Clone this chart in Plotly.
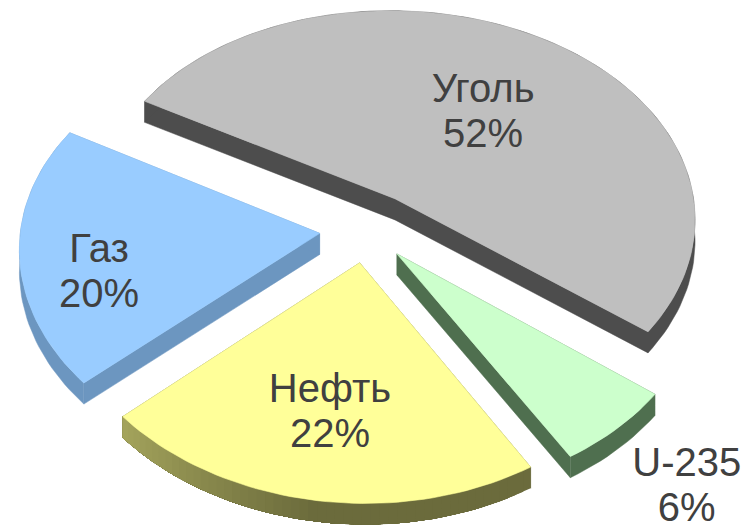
import numpy as np
import plotly.graph_objects as go

labels = ["Уголь", "U-235", "Нефть", "Газ"]
values = [52, 6, 22, 20]
percent_text = ["52%", "6%", "22%", "20%"]
top_colors = ["#bfbfbf", "#ccffcc", "#ffff99", "#99ccff"]
side_colors = ["#4d4d4d", "#4f6f4f", "#6b6b3c", "#6c96c0"]

START = -57.0          # degrees clockwise from the back of the pie
EXPLODE = [0.18, 0.15, 0.155, 0.155]
LABEL_R = [0.53, 1.30, 0.66, 0.75]
LABEL_TURN = [3, 0.4, 0, -9]
K = 0.095              # perspective strength, vertical
KX = 0.08              # perspective strength, horizontal
SHEAR = 0.065          # slight camera yaw
TILT = 0.05            # slight camera roll
DEPTH = 0.10           # slab thickness, in y-axis units
W, H = 743, 525
PX_X, PX_Y = 300.0, 211.0
CX, CY = 366.0, 230.0


def project(X, Y, z=0.0):
    X = np.asarray(X, dtype=float)
    Y = np.asarray(Y, dtype=float)
    return X / (1.0 + KX * Y) - SHEAR * Y, Y / (1.0 + K * Y) + TILT * X + z


def shade(hex_color, f):
    r, g, b = (int(hex_color[i:i + 2], 16) for i in (1, 3, 5))
    return f"rgb({min(255, int(r * f))},{min(255, int(g * f))},{min(255, int(b * f))})"


fig = go.Figure()


def poly(x, y, color, lw=0.0):
    fig.add_trace(go.Scatter(x=list(x), y=list(y), mode="lines", fill="toself",
                             fillcolor=color, line=dict(color=color, width=lw),
                             hoverinfo="skip", showlegend=False))


angle = START
text_x, text_y, pct_x, pct_y = [], [], [], []
for i, v in enumerate(values):
    span = v / sum(values) * 360
    a0, a1 = angle, angle + span
    mid = np.radians((a0 + a1) / 2)
    ax, ay = EXPLODE[i] * np.sin(mid), EXPLODE[i] * np.cos(mid)
    deg = np.linspace(a0, a1, max(8, int(span / 1.5)))
    th = np.radians(deg)
    wx = np.r_[ax, ax + np.sin(th)]
    wy = np.r_[ay, ay + np.cos(th)]
    tx, ty = project(wx, wy)
    bx, by = project(wx, wy, -DEPTH)
    for (p, q) in [(0, 1), (len(wx) - 1, 0)]:
        poly([tx[p], tx[q], bx[q], bx[p]], [ty[p], ty[q], by[q], by[p]], side_colors[i], 0.5)
    arc_tx, arc_ty, arc_bx, arc_by = tx[1:], ty[1:], bx[1:], by[1:]
    if labels[i] == "Нефть":
        # each piece overlaps all the later ones, so no white seams show through
        for j in range(len(deg) - 1):
            f = float(np.interp(deg[j], [150, 190, 231], [1.0, 1.0, 1.55]))
            poly(np.r_[arc_tx[j:], arc_bx[j:][::-1]], np.r_[arc_ty[j:], arc_by[j:][::-1]],
                 shade(side_colors[i], f))
    else:
        poly(np.r_[arc_tx, arc_bx[::-1]], np.r_[arc_ty, arc_by[::-1]], side_colors[i], 0.5)
    poly(np.r_[tx, tx[0]], np.r_[ty, ty[0]], top_colors[i], 0.6)
    la = mid + np.radians(LABEL_TURN[i])
    lx, ly = project(ax + LABEL_R[i] * np.sin(la), ay + LABEL_R[i] * np.cos(la))
    text_x.append(float(lx)); text_y.append(float(ly) + 22.5 / PX_Y)
    pct_x.append(float(lx)); pct_y.append(float(ly) - 22.5 / PX_Y)
    angle = a1

font = dict(family="Liberation Sans", size=40, color="#404040")
fig.add_trace(go.Scatter(x=text_x, y=text_y, mode="text", text=labels, textfont=font,
                         textposition="middle center", hoverinfo="skip", showlegend=False,
                         cliponaxis=False))
fig.add_trace(go.Scatter(x=pct_x, y=pct_y, mode="text", text=percent_text, textfont=font,
                         textposition="middle center", hoverinfo="skip", showlegend=False,
                         cliponaxis=False))

fig.update_layout(
    width=W, height=H, margin=dict(l=0, r=0, t=0, b=0),
    paper_bgcolor="white", plot_bgcolor="white", showlegend=False,
    xaxis=dict(visible=False, range=[-CX / PX_X, (W - CX) / PX_X], fixedrange=True),
    yaxis=dict(visible=False, range=[-(H - CY) / PX_Y, CY / PX_Y], fixedrange=True),
)
fig.write_html("out.html", config={"displayModeBar": False},
               post_script="document.body.style.margin='0';document.body.style.overflow='hidden';")
